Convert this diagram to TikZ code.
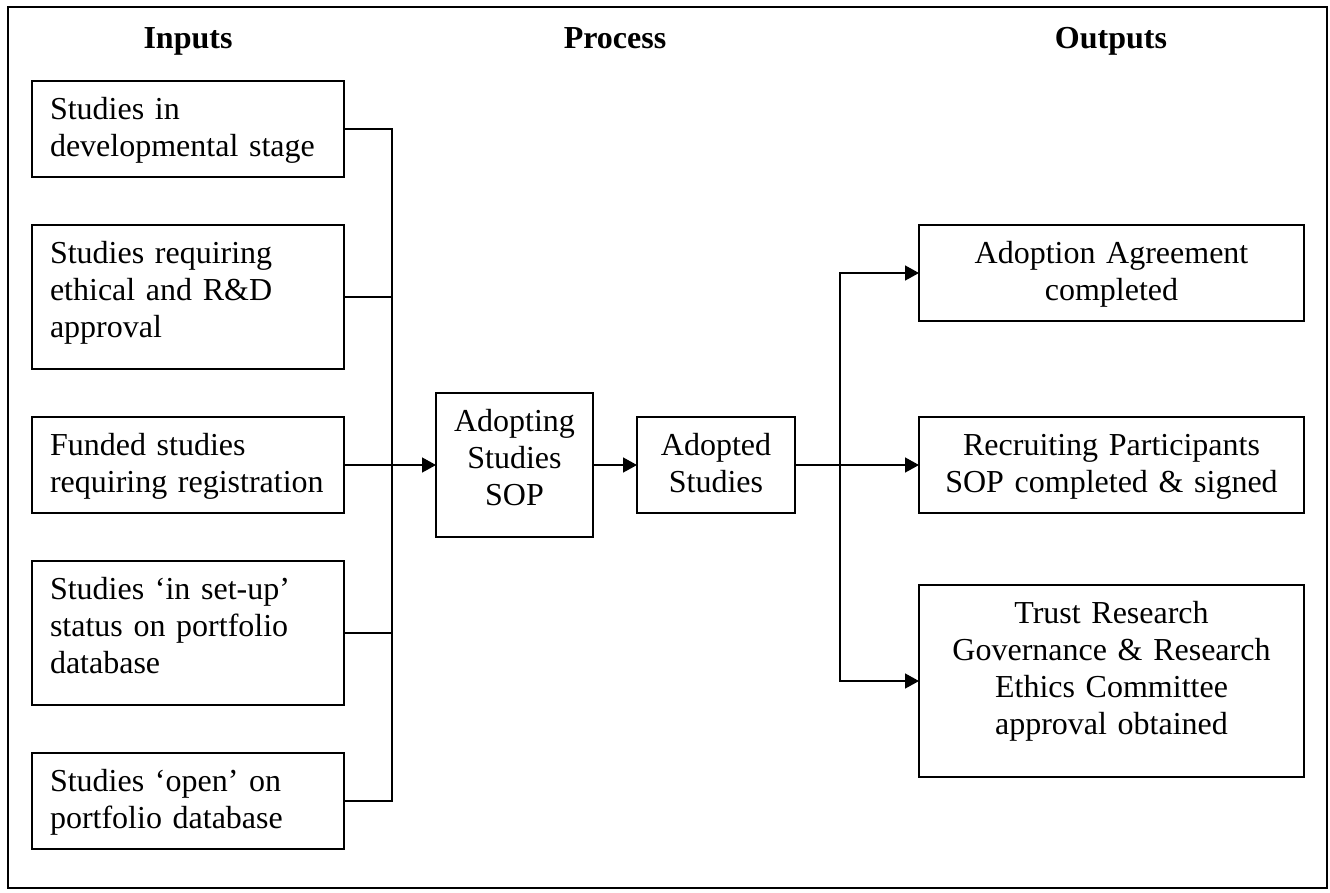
\documentclass[tikz,border=0pt]{standalone}
\usepackage{fontspec}
\setmainfont{Liberation Serif}
\usetikzlibrary{positioning}
\usetikzlibrary{arrows.meta}

\tikzset{
    every node/.style={font=\fontsize{32}{37}\selectfont},
    head/.style={anchor=base, font=\fontsize{32}{37}\selectfont\bfseries},
    box/.style={draw, line width=1.2pt, outer sep=0pt, inner xsep=18pt, inner ysep=10pt, text height=28pt, text depth=48pt},
    inbox/.style={box, text width=276pt, align=left},
    procbox/.style={box, text width=121pt, align=center},
    outbox/.style={box, text width=349pt, align=center},
    rows3/.style={text depth=96pt},
    rows4/.style={text depth=144pt},
    link/.style={line width=1.5pt},
    >={Triangle[length=14pt,width=15pt]}
}

\begin{document}
\begin{tikzpicture}[x=1pt, y=-1pt]
    \useasboundingbox (0,0) rectangle (1330,892);
    \draw[line width=1.5pt] (8,7) rectangle (1327,888);

    \node[head] (hinputs) at (188,48) {Inputs};
    \node[head] (hprocess) at (615,48) {Process};
    \node[head] (houtputs) at (1111,48) {Outputs};

    % inputs
    \node[inbox, anchor=north west] (in1) at (32,81) {Studies in\\developmental stage};
    \node[inbox, rows3, below=48pt of in1] (in2) {Studies requiring\\ethical and R\&D\\approval};
    \node[inbox, below=48pt of in2] (in3) {Funded studies\\requiring registration};
    \node[inbox, rows3, below=48pt of in3] (in4) {Studies ‘in set-up’\\status on portfolio\\database};
    \node[inbox, below=48pt of in4] (in5) {Studies ‘open’ on\\portfolio database};

    % process
    \node[procbox, rows3, anchor=west] (adopting) at (436,465) {Adopting\\Studies\\SOP};
    \node[procbox, text width=122pt, right=44pt of adopting] (adopted) {Adopted\\Studies};

    % outputs
    \node[outbox, anchor=north west] (outA) at (919,225) {Adoption Agreement\\completed};
    \node[outbox, below=96pt of outA] (outB) {Recruiting Participants\\SOP completed \& signed};
    \node[outbox, rows4, below=72pt of outB] (outC) {Trust Research\\Governance \& Research\\Ethics Committee\\approval obtained};

    \coordinate (lbus) at (392,0);
    \coordinate (rbus) at (840,0);

    \draw[link] (in1.east) -| (lbus |- in5.east) -- (in5.east);
    \foreach \n in {in2,in4}
        \draw[link] (\n.east) -- (\n.east -| lbus);
    \draw[link,->] (in3.east) -- (in3.east -| adopting.west);
    \draw[link,->] (adopting) -- (adopted);
    \draw[link,->] (adopted.east) -- (adopted.east -| outB.west);
    \draw[link,->] (adopted.east -| rbus) |- (outA.west);
    \draw[link,->] (adopted.east -| rbus) |- (outC.west);
\end{tikzpicture}
\end{document}
